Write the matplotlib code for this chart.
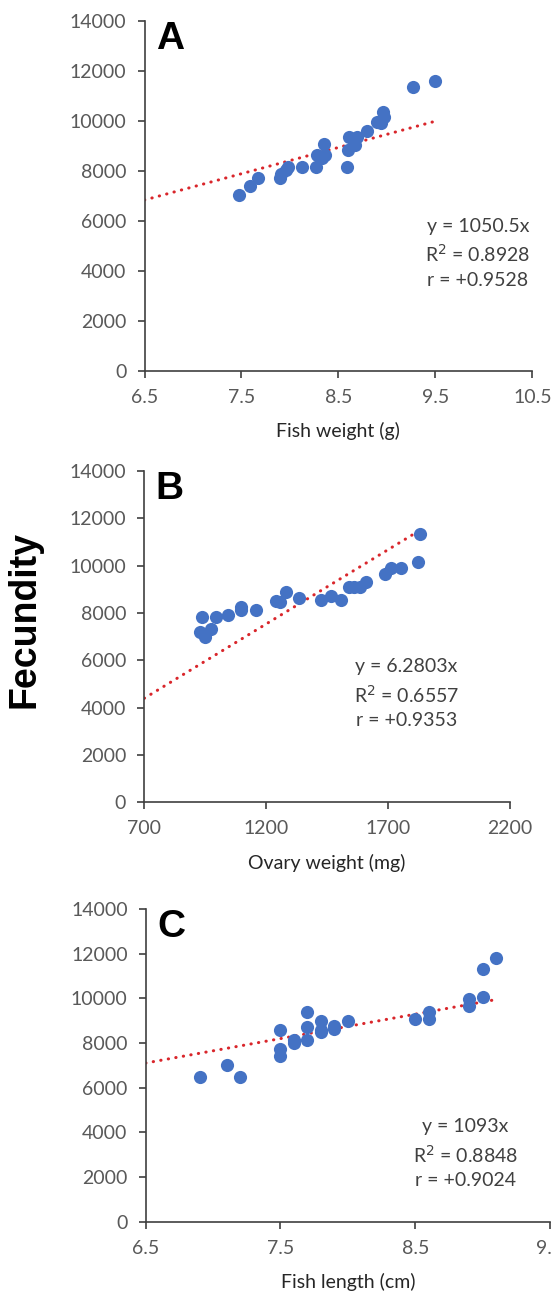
import numpy as np
import matplotlib
matplotlib.use("Agg")
import matplotlib.pyplot as plt

# panel A: fish weight (g) vs fecundity
weight_g = [7.47, 7.59, 7.67, 7.90, 7.91, 7.96, 7.98, 8.12, 8.27, 8.28, 8.33, 8.36, 8.35,
            8.59, 8.60, 8.61, 8.67, 8.69, 8.79, 8.90, 8.94, 8.96, 8.97, 9.27, 9.50]
fec_a = [7030, 7390, 7720, 7720, 7880, 8040, 8140, 8150, 8140, 8620, 8500, 8620, 9070,
         8150, 8820, 9340, 9020, 9350, 9580, 9930, 9900, 10360, 10150, 11360, 11570]

# panel B: ovary weight (mg) vs fecundity
ovary_mg = [936, 927, 949, 975, 994, 1043, 1095, 1098, 1158, 1240, 1255, 1282, 1334,
            1423, 1467, 1507, 1539, 1561, 1585, 1611, 1688, 1713, 1753, 1821, 1831]
fec_b = [7820, 7210, 6970, 7330, 7820, 7910, 8240, 8110, 8140, 8490, 8460, 8890, 8630,
         8560, 8700, 8560, 9090, 9090, 9090, 9300, 9660, 9880, 9880, 10170, 11330]

# panel C: fish length (cm) vs fecundity
length_cm = [6.9, 7.1, 7.2, 7.5, 7.5, 7.5, 7.6, 7.6, 7.7, 7.7, 7.7, 7.8, 7.8, 7.8,
             7.9, 7.9, 8.0, 8.5, 8.6, 8.6, 8.9, 8.9, 9.0, 9.0, 9.1]
fec_c = [6500, 7020, 6500, 8600, 7750, 7400, 8150, 8000, 9380, 8720, 8150, 8980, 8580,
         8480, 8740, 8620, 8980, 9060, 9380, 9060, 9970, 9640, 10060, 11300, 11800]

slopes = [1050.5, 6.2803, 1093]
eq_text = ["y = 1050.5x\nR$^2$ = 0.8928\nr = +0.9528",
           "y = 6.2803x\nR$^2$ = 0.6557\nr = +0.9353",
           "y = 1093x\nR$^2$ = 0.8848\nr = +0.9024"]
xlabels = ["Fish weight (g)", "Ovary weight (mg)", "Fish length (cm)"]
letters = ["A", "B", "C"]
xlims = [(6.5, 10.5), (700, 2200), (6.5, 9.5)]
xticks = [[6.5, 7.5, 8.5, 9.5, 10.5], [700, 1200, 1700, 2200], [6.5, 7.5, 8.5, 9.5]]
eq_pos = [(9.94, 4700), (1776, 4600), (8.87, 3050)]

W, H = 553, 1296
fig = plt.figure(figsize=(W / 100, H / 100), dpi=100)

# axes boxes in pixels: left, right, top, bottom
boxes = [(144.5, 532.3, 20.7, 370.7),
         (144.3, 510.0, 471.0, 802.3),
         (145.7, 550.0, 909.0, 1221.7)]

datasets = [(weight_g, fec_a), (ovary_mg, fec_b), (length_cm, fec_c)]
tick_col = "#595959"
spine_col = "#404040"

for i, (l, r, t, b) in enumerate(boxes):
    ax = fig.add_axes([l / W, 1 - b / H, (r - l) / W, (b - t) / H])
    x, y = datasets[i]
    ax.scatter(x, y, s=90, color="#4472C4", zorder=3, linewidths=0)
    xs = np.array([xlims[i][0], max(x)])
    ax.plot(xs, slopes[i] * xs, color="#D9262B", lw=2.2,
            linestyle=(0, (0.1, 2.4)), dash_capstyle="round", zorder=2)
    ax.set_xlim(*xlims[i])
    ax.set_ylim(0, 14000)
    ax.set_xticks(xticks[i])
    ax.set_xticklabels([f"{v:g}" for v in xticks[i]])
    ax.set_yticks(range(0, 14001, 2000))
    for s in ["top", "right"]:
        ax.spines[s].set_visible(False)
    for s in ["left", "bottom"]:
        ax.spines[s].set_color(spine_col)
        ax.spines[s].set_linewidth(1.2)
    ax.tick_params(direction="out", length=5, width=1.2, color=spine_col,
                   labelsize=14, labelcolor=tick_col, pad=8)
    for lab in ax.get_xticklabels() + ax.get_yticklabels():
        lab.set_family("Lato")
    ax.set_xlabel(xlabels[i], fontsize=14, family="Lato", color="#262626", labelpad=12)
    ax.text(0.03, 1.0, letters[i], transform=ax.transAxes, fontsize=28,
            fontweight="bold", family="Liberation Sans", va="top", ha="left")
    ax.text(eq_pos[i][0], eq_pos[i][1], eq_text[i], fontsize=14, family="Lato",
            color="#404040", ha="center", va="center", multialignment="center",
            linespacing=1.45)

fig.text(25 / W, 1 - 620 / H, "Fecundity", rotation=90, fontsize=27,
         fontweight="bold", family="Liberation Sans", ha="center", va="center")

fig.savefig("out.png", dpi=100)
